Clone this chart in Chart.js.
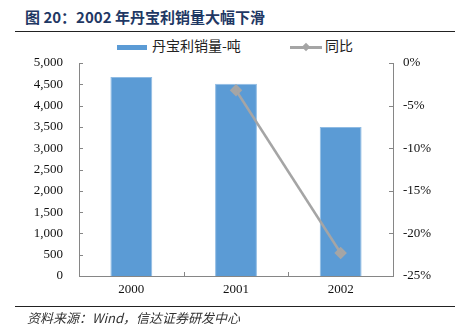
<!DOCTYPE html>
<html>
<head>
<meta charset="utf-8">
<script src="https://cdn.jsdelivr.net/npm/chart.js@4.4.1/dist/chart.umd.min.js"></script>
<style>
  body { margin: 0; background: #fff; }
  #wrap { position: relative; width: 460px; height: 331px; overflow: hidden; }
  #chart { position: absolute; left: 0; top: 0; }
  .title { position: absolute; left: 25px; top: 6px; font: bold 15px "Noto Sans CJK SC", sans-serif; color: #1F3864; white-space: nowrap; }
  .rule { position: absolute; left: 15px; width: 440px; height: 0; border-top: 1.5px solid #222; }
  .legend { position: absolute; top: 35px; font: 14px "Noto Sans CJK SC", serif; color: #222; white-space: nowrap; }
  .source { position: absolute; left: 27px; top: 308px; font: italic 13px "Noto Sans CJK SC", sans-serif; color: #333; white-space: nowrap; }
</style>
</head>
<body>
<div id="wrap">
  <div class="title">图 20：2002 年丹宝利销量大幅下滑</div>
  <div class="rule" style="top:31px"></div>
  <div class="legend" style="left:117px">
    <span style="display:inline-block;width:30px;height:5px;background:#5B9BD5;vertical-align:middle;margin-right:5px"></span>丹宝利销量-吨
  </div>
  <div class="legend" style="left:290px">
    <span style="display:inline-block;position:relative;width:32px;height:10px;vertical-align:middle;margin-right:3px">
      <span style="position:absolute;left:0;top:4px;width:32px;height:2.5px;background:#A5A5A5"></span>
      <span style="position:absolute;left:13px;top:2px;width:6px;height:6px;background:#A5A5A5;transform:rotate(45deg)"></span>
    </span>同比
  </div>
  <canvas id="chart" width="460" height="331"></canvas>
  <div class="rule" style="top:306px"></div>
  <div class="source">资料来源：Wind，信达证券研发中心</div>
</div>
<script>
// data
var years = ['2000', '2001', '2002'];
var sales = [4670, 4510, 3500];       // 丹宝利销量-吨
var yoy = [null, -3.2, -22.3];        // 同比 %

var axisColor = '#868686';

// short tick marks drawn inside the plot area
var innerTicks = {
    id: 'innerTicks',
    afterDraw: function(chart) {
        var ctx = chart.ctx;
        var area = chart.chartArea;
        var y = chart.scales.y, y1 = chart.scales.y1, x = chart.scales.x;
        ctx.save();
        ctx.strokeStyle = axisColor;
        ctx.lineWidth = 1;
        ctx.beginPath();
        y.ticks.forEach(function(t) {
            var py = Math.round(y.getPixelForValue(t.value)) + 0.5;
            ctx.moveTo(area.left, py);
            ctx.lineTo(area.left + 4, py);
        });
        y1.ticks.forEach(function(t) {
            var py = Math.round(y1.getPixelForValue(t.value)) + 0.5;
            ctx.moveTo(area.right, py);
            ctx.lineTo(area.right - 4, py);
        });
        for (var i = 1; i < years.length; i++) {
            var px = Math.round((x.getPixelForValue(i - 1) + x.getPixelForValue(i)) / 2) + 0.5;
            ctx.moveTo(px, area.bottom);
            ctx.lineTo(px, area.bottom - 4);
        }
        ctx.stroke();
        ctx.restore();
    }
};

var tickFont = { family: '"Liberation Serif", "Times New Roman", serif', size: 13 };

new Chart(document.getElementById('chart'), {
    data: {
        labels: years,
        datasets: [{
            type: 'line',
            label: '同比',
            data: yoy,
            yAxisID: 'y1',
            borderColor: '#A5A5A5',
            backgroundColor: '#A5A5A5',
            borderWidth: 2.5,
            pointStyle: 'rectRot',
            pointRadius: 4.5,
            tension: 0,
            order: 0
        }, {
            type: 'bar',
            label: '丹宝利销量-吨',
            data: sales,
            yAxisID: 'y',
            backgroundColor: '#5B9BD5',
            borderColor: '#8FBBE3',
            borderWidth: { left: 1, right: 1, top: 1, bottom: 0 },
            categoryPercentage: 1,
            barPercentage: 0.4,
            order: 1
        }]
    },
    options: {
        responsive: false,
        animation: false,
        layout: { padding: { top: 63, left: 0, right: 0, bottom: 0 } },
        plugins: { legend: { display: false }, tooltip: { enabled: false } },
        scales: {
            x: {
                grid: { display: false, drawTicks: false },
                border: { color: axisColor, width: 1 },
                ticks: { color: '#111', font: tickFont, padding: 6 },
                afterFit: function(s) { s.height = 55; }
            },
            y: {
                position: 'left',
                min: 0, max: 5000,
                grid: { display: false, drawTicks: false },
                border: { color: axisColor, width: 1 },
                ticks: {
                    stepSize: 500, color: '#111', font: tickFont, padding: 16,
                    callback: function(v) { return v.toLocaleString('en-US'); }
                },
                afterFit: function(s) { s.width = 79; }
            },
            y1: {
                position: 'right',
                min: -25, max: 0,
                grid: { display: false, drawTicks: false },
                border: { color: axisColor, width: 1 },
                ticks: {
                    stepSize: 5, color: '#111', font: tickFont, padding: 10,
                    callback: function(v) { return v + '%'; }
                },
                afterFit: function(s) { s.width = 67; }
            }
        }
    },
    plugins: [innerTicks]
});
</script>
</body>
</html>
